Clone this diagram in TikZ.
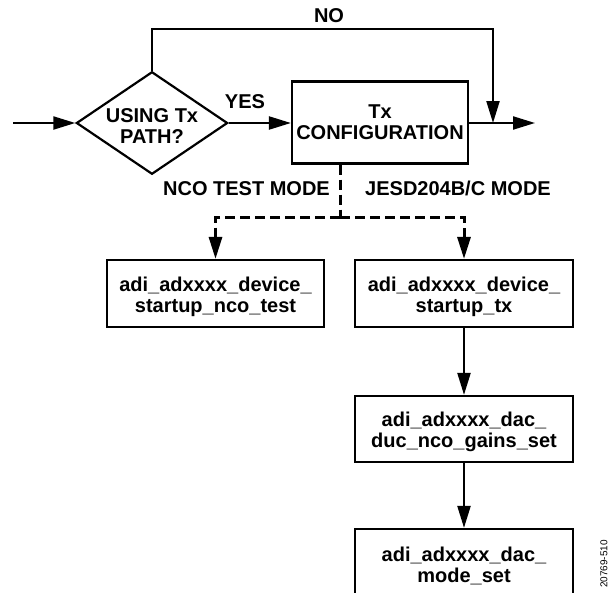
\documentclass[tikz,border=0pt]{standalone}
\usepackage{fontspec}
\setmainfont{Liberation Sans}
\usetikzlibrary{arrows.meta,shapes.geometric}
\newcommand{\topstrut}[1]{\rule{0pt}{#1}}
\begin{document}
\begin{tikzpicture}[x=1pt,y=-1pt,
  lbl/.style={font=\fontsize{20}{21}\selectfont\bfseries, inner sep=0pt},
  box/.style={draw, line width=2.2pt, lbl, align=center, minimum height=67pt, minimum width=218pt},
  arr/.style={line width=2.2pt, -{Triangle[length=22pt,width=13pt]}},
  darr/.style={line width=3pt, dash pattern=on 10pt off 5pt},
  dtip/.style={-{Triangle[length=22pt,width=13pt]}}]
\useasboundingbox (0,0) rectangle (610,592);
\clip (0,0) rectangle (610,592);
% nodes
\node[lbl, draw, diamond, aspect=1.475, minimum width=149pt, minimum height=101pt,
      line width=2.2pt, align=center] (dec) at (152,123) {\topstrut{19pt}USING Tx\\PATH?};
\node[box, minimum width=176pt, minimum height=82pt] (cfg) at (380,122.5) {Tx\\CONFIGURATION};
\node[box, minimum width=217pt] (b1) at (215.5,293.5) {\topstrut{22pt}adi\_adxxxx\_device\_\\startup\_nco\_test};
\node[box] (b2) at (464,293.5) {\topstrut{22pt}adi\_adxxxx\_device\_\\startup\_tx};
\node[box, minimum height=66pt] (b3) at (464,429) {\topstrut{20pt}adi\_adxxxx\_dac\_\\duc\_nco\_gains\_set};
\node[box] (b4) at (464,562.5) {\topstrut{22pt}adi\_adxxxx\_dac\_\\mode\_set};
% labels
\node[lbl, anchor=base] (no) at (329,22) {NO};
\node[lbl, anchor=base] (yes) at (245,108) {YES};
\node[lbl, anchor=base east] (nco) at (330,195) {NCO TEST MODE};
\node[lbl, anchor=base west] (jesd) at (365,195) {JESD204B/C MODE};
\node[font=\fontsize{10}{10}\selectfont, rotate=90, inner sep=0pt] (fig) at (604,564) {20769-510};
% coordinates
\coordinate (in) at (13,123);
\coordinate (out) at (535,123);
\coordinate (join) at (493,123);
\coordinate (nr) at (493,29);
\coordinate (split) at (340,217);
% connectors
\draw[arr] (in) -- (dec.west);
\draw[arr] (dec.east) -- (cfg.west |- dec.east);
\draw[arr] (cfg.east |- dec.east) -- (out);
\draw[arr] (dec.north) |- (nr) -- (join);
\draw[darr] (cfg.south -| split) -- (split);
\draw[darr, dtip] (split) -| (b1.north);
\draw[darr, dtip] (split) -| (b2.north);
\draw[arr] (b2) -- (b3);
\draw[arr] (b3) -- (b4);
\end{tikzpicture}
\end{document}
